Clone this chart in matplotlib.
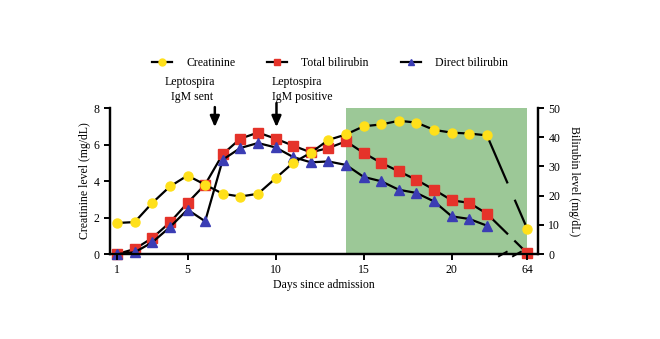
import numpy as np
import matplotlib
matplotlib.use('Agg')
import matplotlib.pyplot as plt
from matplotlib.lines import Line2D

plt.rcParams['font.family'] = ['Liberation Serif', 'DejaVu Serif']
plt.rcParams['font.size'] = 8.5

# days 1..22, then the late follow-up value at day 64
days = list(range(1, 23))
late_day = 64
late_pos = 24.3  # where day 64 sits after the axis break

creatinine = [1.7, 1.75, 2.8, 3.7, 4.3, 3.8, 3.3, 3.15, 3.3, 4.15, 5.0, 5.55,
              6.25, 6.55, 7.0, 7.1, 7.3, 7.2, 6.8, 6.65, 6.6, 6.5]
creatinine_late = 1.35

total_bili = [0.0, 1.7, 5.5, 10.8, 17.5, 23.8, 34.2, 39.5, 41.6, 39.5, 37.1, 34.8,
              36.3, 38.6, 34.6, 31.2, 28.3, 25.4, 22.0, 18.4, 17.5, 13.8]
total_bili_late = 0.2

direct_bili = [0.0, 0.6, 4.0, 9.2, 15.2, 11.2, 32.3, 36.3, 38.0, 36.5, 33.2, 31.4,
               31.7, 30.5, 26.4, 24.9, 22.0, 20.9, 18.0, 12.9, 12.0, 9.7]

tick_pos = [1, 5, 10, 15, 20, late_pos]
tick_lbl = ['1', '5', '10', '15', '20', '64']

yellow = '#FFE01A'
red = '#E5332A'
blue = '#3B3DB4'
green = '#9CC897'

gap = (23.15, 23.6)


def broken_tail(ax, y_end, y_late):
    # line from day 22 to day 64 with a gap at the axis break
    x0, x1 = days[-1], late_pos
    ya = y_end + (y_late - y_end) * (gap[0] - x0) / (x1 - x0)
    yb = y_end + (y_late - y_end) * (gap[1] - x0) / (x1 - x0)
    ax.plot([x0, gap[0]], [y_end, ya], color='black', lw=1.6, zorder=2, clip_on=False)
    ax.plot([gap[1], x1], [yb, y_late], color='black', lw=1.6, zorder=2, clip_on=False)


fig = plt.figure(figsize=(6.6, 3.39), dpi=100)
ax = fig.add_axes([0.1667, 0.2507, 0.6485, 0.4307])
ax2 = ax.twinx()

# recovery period shading (on the back axes so every line stays on top)
ax2.axvspan(14, late_pos, color=green, zorder=0, lw=0)

ax.plot(days, creatinine, color='black', lw=1.6, marker='o', ms=6.5,
        mfc=yellow, mec=yellow, zorder=3, clip_on=False)
broken_tail(ax, creatinine[-1], creatinine_late)
ax.plot([late_pos], [creatinine_late], 'o', ms=6.5, mfc=yellow, mec=yellow,
        zorder=3, clip_on=False)

ax2.plot(days, total_bili, color='black', lw=1.6, marker='s', ms=6.5,
         mfc=red, mec=red, zorder=3, clip_on=False)
broken_tail(ax2, total_bili[-1], total_bili_late)
ax2.plot([late_pos], [total_bili_late], 's', ms=6.5, mfc=red, mec=red,
         zorder=3, clip_on=False)

ax2.plot(days, direct_bili, color='black', lw=1.6, marker='^', ms=6.5,
         mfc=blue, mec=blue, zorder=3, clip_on=False)

ax.set_xlim(0.6, 24.9)
ax.set_ylim(0, 8)
ax2.set_ylim(0, 50)
ax.set_xticks(tick_pos)
ax.set_xticklabels(tick_lbl)
ax.set_yticks([0, 2, 4, 6, 8])
ax2.set_yticks([0, 10, 20, 30, 40, 50])

for a in (ax, ax2):
    a.spines['top'].set_visible(False)
    for s in ('left', 'right', 'bottom'):
        a.spines[s].set_linewidth(1.6)
    a.tick_params(width=1.4, length=4, labelsize=8.5)
ax.patch.set_visible(False)
ax.set_zorder(ax2.get_zorder() + 1)

ax.set_xlabel('Days since admission', fontsize=8.5, labelpad=2)
ax.set_ylabel('Creatinine level (mg/dL)', fontsize=8.5, labelpad=2)
ax2.set_ylabel('Bilirubin level (mg/dL)', fontsize=8.5, rotation=-90, labelpad=14)

# break marks on the x axis
for xb in (22.9, 23.7):
    ax.plot([xb - 0.22, xb + 0.22], [-0.12, 0.12], color='black', lw=1.4,
            clip_on=False, zorder=4)

# arrows for the serology events
arrow_kw = dict(arrowstyle='-|>,head_length=0.65,head_width=0.28', color='black',
                lw=1.8, mutation_scale=10, shrinkA=0, shrinkB=0)
ax.annotate('', xy=(6.55, 6.95), xytext=(6.55, 8.05), annotation_clip=False,
            arrowprops=arrow_kw)
ax.annotate('', xy=(10.05, 6.95), xytext=(10.05, 8.27), annotation_clip=False,
            arrowprops=arrow_kw)
fig.text(0.25, 0.775, 'Leptospira\n  IgM sent', fontsize=8.5, ha='left', va='top',
         linespacing=1.35)
fig.text(0.412, 0.775, 'Leptospira\nIgM positive', fontsize=8.5, ha='left', va='top',
         linespacing=1.35)

handles = [
    Line2D([], [], color='black', lw=1.6, marker='o', ms=5, mfc=yellow, mec=yellow),
    Line2D([], [], color='black', lw=1.6, marker='s', ms=5, mfc=red, mec=red),
    Line2D([], [], color='black', lw=1.6, marker='^', ms=5, mfc=blue, mec=blue),
]
fig.legend(handles, ['Creatinine', 'Total bilirubin', 'Direct bilirubin'],
           loc='center', bbox_to_anchor=(0.5, 0.815), ncol=3, frameon=False,
           fontsize=8.5, handlelength=1.7, columnspacing=2.7, handletextpad=1.2)

fig.savefig('out.png', dpi=100)
